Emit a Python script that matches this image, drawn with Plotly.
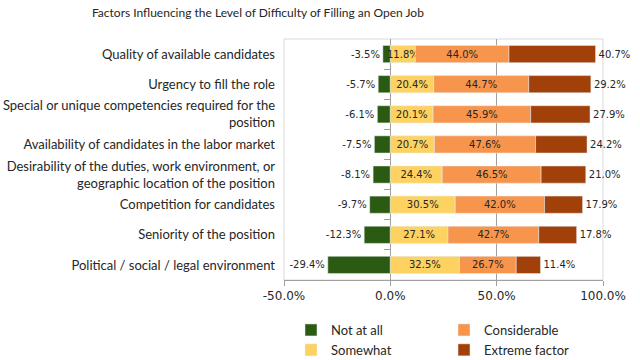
import plotly.graph_objects as go

categories = [
    "Quality of available candidates",
    "Urgency to fill the role",
    "Special or unique competencies required for the<br>position",
    "Availability of candidates in the labor market",
    "Desirability of the duties, work environment, or<br>geographic location of the position",
    "Competition for candidates",
    "Seniority of the position",
    "Political / social / legal environment",
]
not_at_all = [-3.5, -5.7, -6.1, -7.5, -8.1, -9.7, -12.3, -29.4]
somewhat = [11.8, 20.4, 20.1, 20.7, 24.4, 30.5, 27.1, 32.5]
considerable = [44.0, 44.7, 45.9, 47.6, 46.5, 42.0, 42.7, 26.7]
extreme = [40.7, 29.2, 27.9, 24.2, 21.0, 17.9, 17.8, 11.4]
x_ticks = [-50, 0, 50, 100]
x_ticktext = ["-50.0%", "0.0%", "50.0%", "100.0%"]

C_NOT = "#2b5b12"
C_SOME = "#fdd260"
C_CONS = "#f8954d"
C_EXT = "#a2400a"

label_font = dict(family="DejaVu Sans", size=10, color="#262626")

fig = go.Figure()
fig.add_trace(go.Bar(y=categories, x=not_at_all, orientation="h", name="Not at all",
                     marker=dict(color=C_NOT), texttemplate="%{x:.1f}%", textposition="outside",
                     textfont=label_font, cliponaxis=False, legend="legend"))
fig.add_trace(go.Bar(y=categories, x=somewhat, orientation="h", name="Somewhat",
                     marker=dict(color=C_SOME), texttemplate="%{x:.1f}%", textposition="inside",
                     insidetextanchor="middle", constraintext="none",
                     textfont=label_font, cliponaxis=False, legend="legend"))
fig.add_trace(go.Bar(y=categories, x=considerable, orientation="h", name="Considerable",
                     marker=dict(color=C_CONS), texttemplate="%{x:.1f}%", textposition="inside",
                     insidetextanchor="middle", constraintext="none",
                     textfont=label_font, cliponaxis=False, legend="legend2"))
fig.add_trace(go.Bar(y=categories, x=extreme, orientation="h", name="Extreme factor",
                     marker=dict(color=C_EXT), texttemplate="%{x:.1f}%", textposition="outside",
                     textfont=label_font, cliponaxis=False, legend="legend2"))

# invisible trace to activate the tick axis at the zero line
fig.add_trace(go.Scatter(x=[0], y=[0], yaxis="y2", mode="markers", marker=dict(opacity=0),
                         showlegend=False, hoverinfo="skip"))

legend_common = dict(orientation="v", xref="container", yref="container", xanchor="left",
                     y=0.125, yanchor="top",
                     font=dict(family="Lato", size=13, color="#262626"), tracegroupgap=0,
                     bgcolor="rgba(0,0,0,0)")

fig.update_layout(
    width=640, height=360,
    margin=dict(l=284, r=37, t=39, b=80, autoexpand=False),
    paper_bgcolor="white", plot_bgcolor="white",
    barmode="relative", bargap=0.43,
    title=dict(text="Factors Influencing the Level of Difficulty of Filling an Open Job",
               x=0.403, xanchor="center", xref="container", y=0.965, yanchor="middle",
               font=dict(family="Lato", size=12, color="#262626")),
    xaxis=dict(range=[-50, 100], tickvals=x_ticks, ticktext=x_ticktext,
               showgrid=True, gridcolor="#a0a0a0", gridwidth=1,
               zeroline=False, showline=True, linecolor="#a0a0a0",
               ticks="outside", ticklen=5, tickcolor="#a0a0a0",
               tickfont=dict(family="DejaVu Sans", size=12, color="#262626")),
    yaxis=dict(autorange="reversed", showgrid=False, zeroline=False, showline=False,
               ticks="", ticklabelstandoff=8,
               tickfont=dict(family="Lato", size=13, color="#262626")),
    yaxis2=dict(overlaying="y", anchor="free", position=1/3, range=[7.5, -0.5],
                tickvals=[0.5, 1.5, 2.5, 3.5, 4.5, 5.5, 6.5], showticklabels=False,
                ticks="outside", ticklen=6, tickcolor="#a0a0a0", showgrid=False,
                zeroline=False, showline=False),
    legend=dict(legend_common, x=291 / 640),
    legend2=dict(legend_common, x=444 / 640),
    shapes=[dict(type="rect", xref="paper", yref="paper", x0=0, x1=1, y0=0, y1=1,
                 line=dict(color="#d9d9d9", width=1), layer="below")],
)

fig.write_html("out.html", config={"displayModeBar": False},
               post_script="document.body.style.margin='0';")
